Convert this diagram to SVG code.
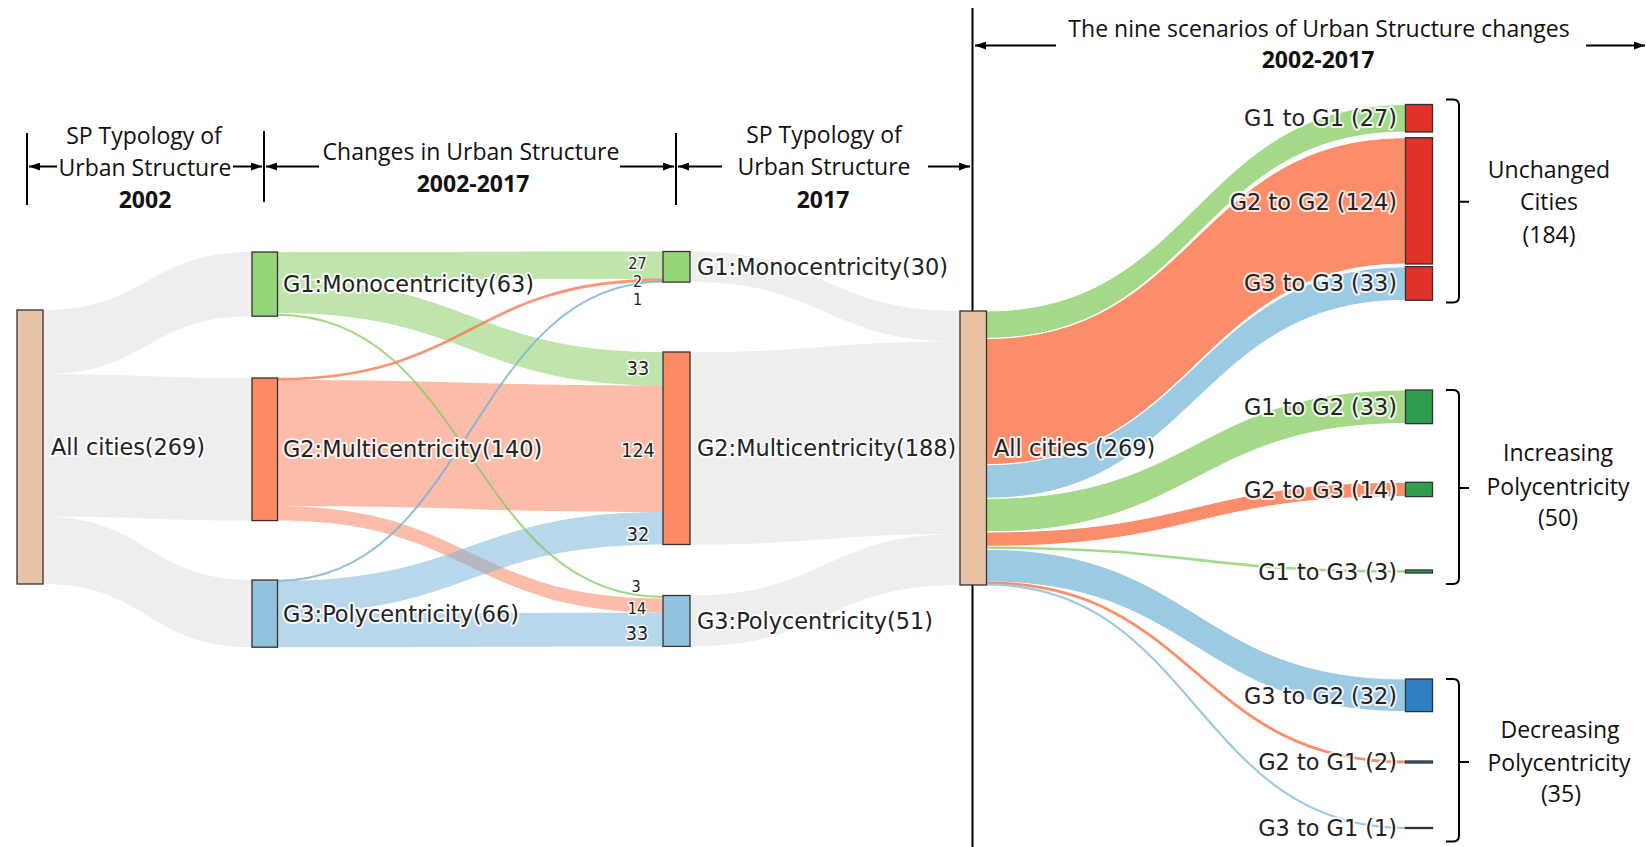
<svg xmlns="http://www.w3.org/2000/svg" width="1646" height="847" viewBox="0 0 1646 847">
<defs>
<marker id="ah" viewBox="0 0 11 8" refX="11" refY="4" markerWidth="11" markerHeight="8" markerUnits="userSpaceOnUse" orient="auto"><path d="M0,0 L11,4 L0,8 Z" fill="#000"/></marker>
<style>
.hdr{font-family:"Open Sans","Liberation Sans",sans-serif;font-size:23px;fill:#111;text-anchor:middle}
.bold{font-weight:bold}
.rule{stroke:#000;stroke-width:2;fill:none}
.arr{stroke:#000;stroke-width:2;fill:none;marker-end:url(#ah)}
.node{stroke:#333;stroke-width:1.3}
.tan{fill:#e8c4a7}.g{fill:#96d47a}.r{fill:#fc8a63}.b{fill:#92c2de}
.rr{fill:#e03229}.gg{fill:#2e9e4e}.bb{fill:#2f7fc4}
.lbl{font-family:"DejaVu Sans","Verdana",sans-serif;font-size:22.4px;fill:#222;stroke:#fff;stroke-width:4;stroke-opacity:0.85;paint-order:stroke;stroke-linejoin:round}
.rl{font-family:"DejaVu Sans","Verdana",sans-serif;font-size:22.4px;fill:#222;stroke:#fff;stroke-width:4;stroke-opacity:0.8;paint-order:stroke;stroke-linejoin:round;text-anchor:end}
.num{font-family:"DejaVu Sans Condensed","DejaVu Sans",sans-serif;font-stretch:condensed;font-size:19.5px;fill:#222;text-anchor:middle;stroke:#fff;stroke-width:3;stroke-opacity:0.85;paint-order:stroke}
.sm{font-size:16px}
.grp{font-family:"Open Sans","Liberation Sans",sans-serif;font-size:23px;fill:#111;text-anchor:middle}
.gray{fill:#eeeeee}
.lg{fill:#7fcc5a;fill-opacity:0.5}.lr{fill:#fa7a55;fill-opacity:0.5}.lb{fill:#74b0d6;fill-opacity:0.5}
.sg{fill:none;stroke:#7fcc5a;stroke-opacity:0.75}.sr{fill:none;stroke:#fa7a55;stroke-opacity:0.8}.sb{fill:none;stroke:#74b0d6;stroke-opacity:0.8}
.fg{fill:#a5d98a;stroke:#fff;stroke-width:1}.fr{fill:#fc8d6b;stroke:#fff;stroke-width:1}.fb{fill:#9dcae3;stroke:#fff;stroke-width:1}
.tg{fill:none;stroke:#a5d98a;stroke-width:2.6}.tr{fill:none;stroke:#fc8d6b;stroke-width:2.8}.tb{fill:none;stroke:#9dcae3;stroke-width:2.2}
</style>
</defs>
<rect width="1646" height="847" fill="#fff"/>

<g id="headers">
<line class="rule" x1="27" y1="133" x2="27" y2="205"/>
<line class="rule" x1="264" y1="131" x2="264" y2="202"/>
<line class="rule" x1="676" y1="133" x2="676" y2="205"/>
<line class="rule" x1="972.5" y1="8" x2="972.5" y2="847"/>
<text class="hdr" x="144" y="144">SP Typology of</text>
<text class="hdr" x="145" y="176">Urban Structure</text>
<text class="hdr bold" x="145" y="208">2002</text>
<line class="arr" x1="57" y1="166.5" x2="29" y2="166.5"/>
<line class="arr" x1="233" y1="166.5" x2="262" y2="166.5"/>
<text class="hdr" x="471" y="160">Changes in Urban Structure</text>
<text class="hdr bold" x="473" y="192">2002-2017</text>
<line class="arr" x1="319" y1="166.5" x2="266" y2="166.5"/>
<line class="arr" x1="620" y1="166.5" x2="674" y2="166.5"/>
<text class="hdr" x="824" y="143">SP Typology of</text>
<text class="hdr" x="824" y="175">Urban Structure</text>
<text class="hdr bold" x="823" y="208">2017</text>
<line class="arr" x1="722" y1="166.5" x2="678" y2="166.5"/>
<line class="arr" x1="928" y1="166.5" x2="970" y2="166.5"/>
<text class="hdr" x="1319" y="37">The nine scenarios of Urban Structure changes</text>
<text class="hdr bold" x="1318" y="68">2002-2017</text>
<line class="arr" x1="1056" y1="45.5" x2="975" y2="45.5"/>
<line class="arr" x1="1586" y1="45.5" x2="1645" y2="45.5"/>
</g>

<g id="connectors">
<path class="gray" d="M43,310 C147.5,310 147.5,252 252,252 L252,316.2 C147.5,316.2 147.5,374.2 43,374.2 Z"/>
<path class="gray" d="M43,374.2 C147.5,374.2 147.5,378 252,378 L252,520.6 C147.5,520.6 147.5,516.8 43,516.8 Z"/>
<path class="gray" d="M43,516.8 C147.5,516.8 147.5,580 252,580 L252,647.2 C147.5,647.2 147.5,584 43,584 Z"/>
<path class="lg" d="M277.5,252 C470,252 470,251.5 663,251.5 L663,279 C470,279 470,279.5 277.5,279.5 Z"/>
<path class="lg" d="M277.5,279.5 C470,279.5 470,352 663,352 L663,385.6 C470,385.6 470,313.1 277.5,313.1 Z"/>
<path class="lr" d="M277.5,380 C470,380 470,385.6 663,385.6 L663,511.9 C470,511.9 470,506.3 277.5,506.3 Z"/>
<path class="lr" d="M277.5,506.3 C470,506.3 470,598.6 663,598.6 L663,612.8 C470,612.8 470,520.6 277.5,520.6 Z"/>
<path class="lb" d="M277.5,581 C470,581 470,511.9 663,511.9 L663,544.5 C470,544.5 470,613.6 277.5,613.6 Z"/>
<path class="lb" d="M277.5,613.6 C470,613.6 470,612.8 663,612.8 L663,646.4 C470,646.4 470,647.2 277.5,647.2 Z"/>
<path class="sg" stroke-width="2" d="M277.5,314.7 C470,314.7 470,597 663,597"/>
<path class="sr" stroke-width="2.8" d="M277.5,379.2 C470,379.2 470,280 663,280"/>
<path class="sb" stroke-width="2" d="M277.5,580.7 C470,580.7 470,281.6 663,281.6"/>
<path class="gray" d="M690,251.5 C825,251.5 825,311 960,311 L960,341.6 C825,341.6 825,282.1 690,282.1 Z"/>
<path class="gray" d="M690,352 C825,352 825,341.6 960,341.6 L960,534.1 C825,534.1 825,544.5 690,544.5 Z"/>
<path class="gray" d="M690,595.5 C825,595.5 825,534.1 960,534.1 L960,585 C825,585 825,646.4 690,646.4 Z"/>
<path class="fg" d="M986.5,311 C1196,311 1196,104.5 1405.5,104.5 L1405.5,132 C1196,132 1196,338.5 986.5,338.5 Z"/>
<path class="fr" d="M986.5,338.5 C1196,338.5 1196,137.7 1405.5,137.7 L1405.5,264 C1196,264 1196,464.8 986.5,464.8 Z"/>
<path class="fb" d="M986.5,464.8 C1196,464.8 1196,266.7 1405.5,266.7 L1405.5,300.3 C1196,300.3 1196,498.4 986.5,498.4 Z"/>
<path class="fg" d="M986.5,498.4 C1196,498.4 1196,390 1405.5,390 L1405.5,423.6 C1196,423.6 1196,532 986.5,532 Z"/>
<path class="fr" d="M986.5,532 C1196,532 1196,482.3 1405.5,482.3 L1405.5,496.6 C1196,496.6 1196,546.3 986.5,546.3 Z"/>
<path class="tg" d="M986.5,547.8 C1196,547.8 1196,571.5 1405.5,571.5"/>
<path class="fb" d="M986.5,549.3 C1196,549.3 1196,679 1405.5,679 L1405.5,711.6 C1196,711.6 1196,581.9 986.5,581.9 Z"/>
<path class="tr" d="M986.5,582.9 C1196,582.9 1196,762 1405.5,762"/>
<path class="tb" d="M986.5,584.5 C1196,584.5 1196,828 1405.5,828"/>
</g>

<g id="node-all-2002"><rect class="node tan" x="17" y="310" width="26" height="274"/><text class="lbl" x="51" y="455">All cities(269)</text></g>
<g id="node-g1-2002"><rect class="node g" x="252" y="252" width="25.5" height="64.2"/><text class="lbl" x="283" y="292">G1:Monocentricity(63)</text></g>
<g id="node-g2-2002"><rect class="node r" x="252" y="378" width="25.5" height="142.6"/><text class="lbl" x="283" y="457">G2:Multicentricity(140)</text></g>
<g id="node-g3-2002"><rect class="node b" x="252" y="580" width="25.5" height="67.2"/><text class="lbl" x="283" y="622">G3:Polycentricity(66)</text></g>
<g id="node-g1-2017"><rect class="node g" x="663" y="251.5" width="27" height="30.6"/><text class="lbl" x="697" y="275">G1:Monocentricity(30)</text></g>
<g id="node-g2-2017"><rect class="node r" x="663" y="352" width="27" height="192.5"/><text class="lbl" x="697" y="456">G2:Multicentricity(188)</text></g>
<g id="node-g3-2017"><rect class="node b" x="663" y="595.5" width="27" height="50.9"/><text class="lbl" x="697" y="629">G3:Polycentricity(51)</text></g>

<g id="flow-values">
<text class="num sm" x="637.5" y="269">27</text>
<text class="num sm" x="637.5" y="287">2</text>
<text class="num sm" x="637.5" y="305">1</text>
<text class="num" x="638" y="375">33</text>
<text class="num" x="638" y="457">124</text>
<text class="num" x="638" y="541">32</text>
<text class="num sm" x="636" y="592">3</text>
<text class="num sm" x="637" y="614">14</text>
<text class="num" x="637" y="640">33</text>
</g>

<g id="node-all-2017"><rect class="node tan" x="960" y="311" width="26.5" height="274"/><text class="lbl" x="994" y="456">All cities (269)</text></g>

<g id="node-g1g1"><rect class="node rr" x="1405.5" y="104.5" width="27" height="27.5"/><text class="rl" x="1397" y="126">G1 to G1 (27)</text></g>
<g id="node-g2g2"><rect class="node rr" x="1405.5" y="137.7" width="27" height="126.3"/><text class="rl" x="1397" y="210">G2 to G2 (124)</text></g>
<g id="node-g3g3"><rect class="node rr" x="1405.5" y="266.7" width="27" height="33.6"/><text class="rl" x="1397" y="291">G3 to G3 (33)</text></g>
<g id="node-g1g2"><rect class="node gg" x="1405.5" y="390" width="27" height="33.6"/><text class="rl" x="1397" y="415">G1 to G2 (33)</text></g>
<g id="node-g2g3"><rect class="node gg" x="1405.5" y="482.3" width="27" height="14.3"/><text class="rl" x="1397" y="498">G2 to G3 (14)</text></g>
<g id="node-g1g3"><rect class="node gg" x="1405.5" y="570" width="27" height="3"/><text class="rl" x="1397" y="580">G1 to G3 (3)</text></g>
<g id="node-g3g2"><rect class="node bb" x="1405.5" y="679" width="27" height="32.6"/><text class="rl" x="1397" y="704">G3 to G2 (32)</text></g>
<g id="node-g2g1"><rect class="node bb" x="1405.5" y="761" width="27" height="2"/><text class="rl" x="1397" y="770">G2 to G1 (2)</text></g>
<g id="node-g3g1"><rect class="node bb" x="1405.5" y="827.5" width="27" height="1"/><text class="rl" x="1397" y="836">G3 to G1 (1)</text></g>

<g id="bracket-unchanged">
<path class="rule" d="M1446,99.5 H1453 Q1459,99.5 1459,105.5 V296.5 Q1459,302.5 1453,302.5 H1446 M1459,201.7 H1469"/>
<text class="grp" x="1549" y="178">Unchanged</text>
<text class="grp" x="1549" y="210">Cities</text>
<text class="grp" x="1549" y="243">(184)</text>
</g>
<g id="bracket-increasing">
<path class="rule" d="M1446,390 H1453 Q1459,390 1459,396 V578 Q1459,584 1453,584 H1446 M1459,488 H1469"/>
<text class="grp" x="1558" y="461">Increasing</text>
<text class="grp" x="1558" y="495">Polycentricity</text>
<text class="grp" x="1558" y="526">(50)</text>
</g>
<g id="bracket-decreasing">
<path class="rule" d="M1446,679 H1453 Q1459,679 1459,685 V835.5 Q1459,841.5 1453,841.5 H1446 M1459,762 H1469"/>
<text class="grp" x="1560" y="738">Decreasing</text>
<text class="grp" x="1559" y="771">Polycentricity</text>
<text class="grp" x="1561" y="802">(35)</text>
</g>
</svg>
